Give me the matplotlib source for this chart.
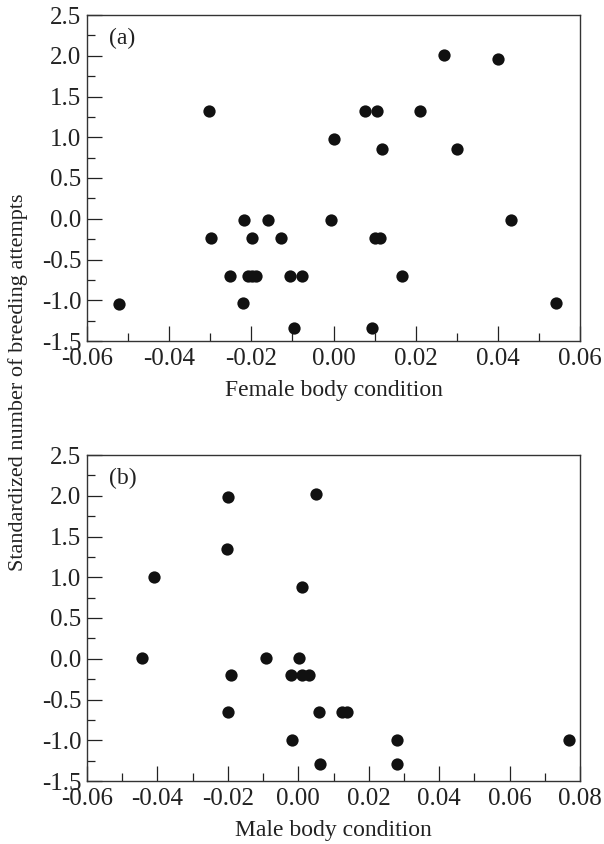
import matplotlib
matplotlib.use("Agg")
import matplotlib.pyplot as plt
from matplotlib.ticker import MultipleLocator, FormatStrFormatter

plt.rcParams['font.family'] = ['Liberation Serif', 'DejaVu Serif']

# Panel (a): female body condition vs standardized breeding attempts
female_x = [-0.0523, -0.0302, -0.0298, -0.0251, -0.0218, -0.0220,
            -0.0209, -0.0199, -0.0189, -0.0198, -0.0159, -0.0129,
            -0.0107, -0.0077, -0.0097, -0.0006, 0.0000, 0.0076,
            0.0107, 0.0119, 0.0100, 0.0113, 0.0094, 0.0167,
            0.0210, 0.0270, 0.0300, 0.0401, 0.0431, 0.0542]
female_y = [-1.04, 1.32, -0.24, -0.70, -0.02, -1.03,
            -0.70, -0.70, -0.70, -0.24, -0.02, -0.24,
            -0.70, -0.70, -1.34, -0.02, 0.98, 1.32,
            1.32, 0.85, -0.24, -0.24, -1.34, -0.70,
            1.32, 2.01, 0.85, 1.96, -0.02, -1.03]

# Panel (b): male body condition vs standardized breeding attempts
male_x = [-0.0443, -0.0410, -0.0201, -0.0202, -0.0191, -0.0199,
          -0.0092, -0.0020, -0.0019, 0.0001, 0.0011, 0.0011,
          0.0031, 0.0050, 0.0060, 0.0061, 0.0125, 0.0137,
          0.0281, 0.0281, 0.0770]
male_y = [0.01, 1.00, 1.98, 1.35, -0.20, -0.65,
          0.01, -0.20, -0.995, 0.01, 0.88, -0.20,
          -0.20, 2.02, -0.65, -1.29, -0.65, -0.65,
          -1.00, -1.29, -1.00]

W, H = 604, 844
fig = plt.figure(figsize=(W / 100, H / 100), dpi=100)

def px_axes(l, t, r, b):
    return fig.add_axes([l / W, 1 - b / H, (r - l) / W, (b - t) / H])

ax_a = px_axes(87, 15, 580, 341)
ax_b = px_axes(87, 455, 580, 781)

TICK_FS = 18
LABEL_FS = 17
panels = [
    (ax_a, female_x, female_y, (-0.06, 0.06), "Female body condition", "(a)"),
    (ax_b, male_x, male_y, (-0.06, 0.08), "Male body condition", "(b)"),
]
for ax, xs, ys, xlim, xlabel, tag in panels:
    ax.scatter(xs, ys, s=78, color='#111111', zorder=3, linewidths=0)
    ax.set_xlim(*xlim)
    ax.set_ylim(-1.5, 2.5)
    ax.xaxis.set_major_locator(MultipleLocator(0.02))
    ax.xaxis.set_minor_locator(MultipleLocator(0.01))
    ax.yaxis.set_major_locator(MultipleLocator(0.5))
    ax.yaxis.set_minor_locator(MultipleLocator(0.25))
    ax.xaxis.set_major_formatter(FormatStrFormatter('%.2f'))
    ax.yaxis.set_major_formatter(FormatStrFormatter('%.1f'))
    ax.tick_params(which='both', direction='in', top=False, right=False,
                   labelsize=TICK_FS, colors='#222222', width=0.9)
    ax.tick_params(which='major', length=11)
    ax.tick_params(which='minor', length=5.5)
    ax.tick_params(axis='x', which='major', pad=5)
    ax.tick_params(axis='y', which='major', pad=4)
    for sp in ax.spines.values():
        sp.set_color('#333333')
        sp.set_linewidth(1.0)
    ax.set_xlabel(xlabel, fontsize=LABEL_FS, color='#222222', labelpad=7)
    ax.text(0.045, 0.96, tag, transform=ax.transAxes, fontsize=LABEL_FS,
            va='top', ha='left', color='#222222')

fig.text(18 / W, 1 - 382 / H, "Standardized number of breeding attempts",
         rotation=90, ha='center', va='center', fontsize=16, color='#222222')

fig.savefig("out.png", dpi=100)
